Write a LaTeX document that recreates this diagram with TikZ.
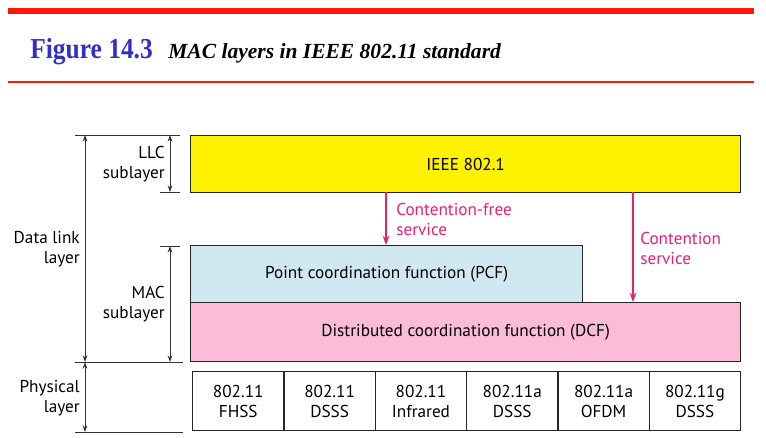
\documentclass[tikz,border=0pt]{standalone}
\usepackage{fontspec}
\setmainfont{PT Sans}
\newfontfamily\titlefont[FakeStretch=0.88]{Liberation Serif}
\newfontfamily\subtitlefont{Liberation Serif}
\usetikzlibrary{arrows.meta}
\definecolor{barred}{RGB}{255,24,8}
\definecolor{figblue}{RGB}{48,48,200}
\definecolor{llcyellow}{RGB}{255,242,0}
\definecolor{pcfblue}{RGB}{208,232,242}
\definecolor{dcfpink}{RGB}{250,188,214}
\definecolor{svcpink}{RGB}{236,30,112}
\tikzset{
  box/.style={draw=black!85, line width=0.9pt, inner sep=0pt},
  lbl/.style={font=\fontsize{12.9pt}{15pt}\selectfont, align=right, anchor=east, inner sep=0pt},
  txt/.style={font=\fontsize{12.9pt}{15pt}\selectfont, align=center, inner sep=0pt},
  svc/.style={font=\fontsize{12.9pt}{15pt}\selectfont, align=left, anchor=west, inner sep=0pt, text=svcpink},
  tick/.style={draw=black!80, line width=0.7pt},
  dim/.style={draw=black!80, line width=0.7pt, {Stealth[length=5pt,width=3.5pt]}-{Stealth[length=5pt,width=3.5pt]}},
  svcarrow/.style={draw=svcpink, line width=1.2pt, -{Stealth[length=7pt,width=5pt]}}
}
\begin{document}
\begin{tikzpicture}[x=0.75pt,y=-0.75pt]
\useasboundingbox (0,0) rectangle (766,438);
% header
\fill[barred] (8,8) rectangle (754,14);
\fill[barred] (8,81) rectangle (754,83);
\node[anchor=base west, inner sep=0pt, text=figblue, font=\titlefont\fontsize{21.7pt}{24pt}\selectfont\bfseries] (fig) at (30,59) {Figure 14.3};
\node[anchor=base west, inner sep=0pt, font=\subtitlefont\fontsize{16.15pt}{20pt}\selectfont\bfseries\itshape] (cap) at (168,59) {MAC layers in IEEE 802.11 standard};

% boxes
\node[box, fill=llcyellow, minimum width=550*0.75pt, minimum height=57*0.75pt, anchor=north west, txt] (llc) at (190,135) {IEEE 802.1};
\node[box, fill=dcfpink, minimum width=550*0.75pt, minimum height=59*0.75pt, anchor=north west, txt] (dcf) at (190,302) {Distributed coordination function (DCF)};
\node[box, fill=pcfblue, minimum width=392*0.75pt, minimum height=57*0.75pt, anchor=north west, txt] (pcf) at (190,245) {Point coordination function (PCF)};

% physical cells
\foreach \i/\a/\b in {0/802.11/FHSS,1/802.11/DSSS,2/802.11/Infrared,3/802.11a/DSSS,4/802.11a/OFDM,5/802.11g/DSSS}{
  \node[box, minimum width=91.33*0.75pt, minimum height=59*0.75pt, anchor=north west, txt] (ph\i) at ({192+91.33*\i},371) {\a\\\b};
}

% service arrows
\coordinate (cf1) at (386,192);
\coordinate (cf2) at (386,245);
\coordinate (cs1) at (633,192);
\coordinate (cs2) at (633,302);
\draw[svcarrow] (cf1) -- (cf2);
\draw[svcarrow] (cs1) -- (cs2);
\node[svc] (cflbl) at (396,219) {Contention-free\\service};
\node[svc] (cslbl) at (640,248) {Contention\\service};

% left dimension ticks
\coordinate (t0a) at (75,135); \coordinate (t0b) at (180,135);
\coordinate (t1a) at (160,192); \coordinate (t1b) at (180,192);
\coordinate (t2a) at (160,246); \coordinate (t2b) at (180,246);
\coordinate (t3a) at (75,362); \coordinate (t3b) at (183,362);
\coordinate (t4a) at (75,432); \coordinate (t4b) at (183,432);
\draw[tick] (t0a) -- (t0b);
\draw[tick] (t1a) -- (t1b);
\draw[tick] (t2a) -- (t2b);
\draw[tick] (t3a) -- (t3b);
\draw[tick] (t4a) -- (t4b);
\coordinate (dl1) at (85,135); \coordinate (dl2) at (85,362);
\coordinate (ll1) at (170,135); \coordinate (ll2) at (170,192);
\coordinate (mc1) at (170,246); \coordinate (mc2) at (170,362);
\coordinate (py1) at (85,362); \coordinate (py2) at (85,432);
\draw[dim] (dl1) -- (dl2);
\draw[dim] (ll1) -- (ll2);
\draw[dim] (mc1) -- (mc2);
\draw[dim] (py1) -- (py2);

\node[lbl] (llclbl) at (165,164) {LLC\\sublayer};
\node[lbl] (dllbl) at (80,249) {Data link\\layer};
\node[lbl] (maclbl) at (165,304) {MAC\\sublayer};
\node[lbl] (phylbl) at (80,398) {Physical\\layer};
\end{tikzpicture}
\end{document}
